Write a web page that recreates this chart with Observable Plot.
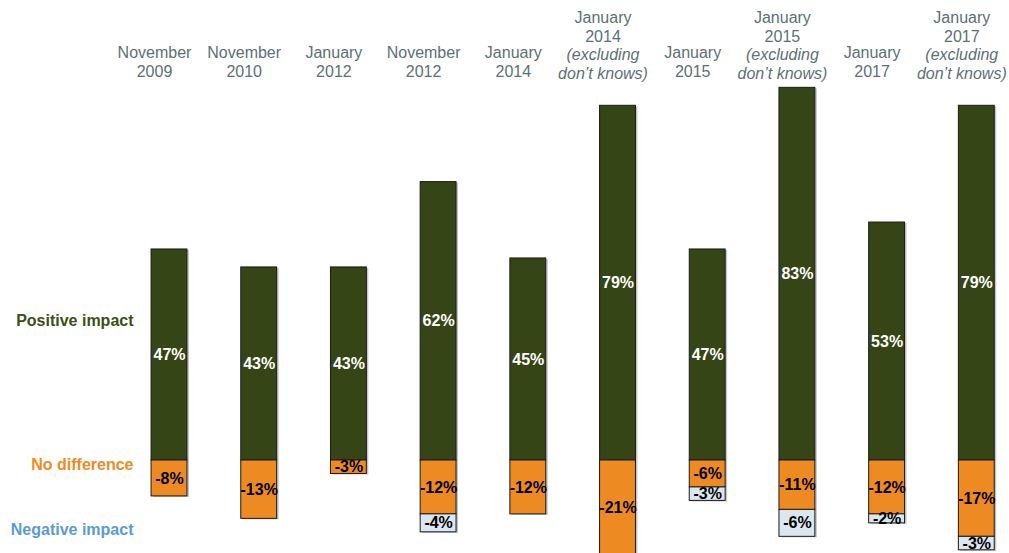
<!DOCTYPE html>
<html>
<head>
<meta charset="utf-8">
<script src="https://cdn.jsdelivr.net/npm/d3@7"></script>
<script src="https://cdn.jsdelivr.net/npm/@observablehq/plot@0.6"></script>
<style>
  html, body { margin: 0; padding: 0; background: #fff; }
  #chart { width: 1009px; height: 553px; overflow: hidden; }
</style>
</head>
<body>
<div id="chart"></div>
<script>
// ---- data ----
const categories = ["Nov 2009", "Nov 2010", "Jan 2012", "Nov 2012", "Jan 2014",
  "Jan 2014 excl", "Jan 2015", "Jan 2015 excl", "Jan 2017", "Jan 2017 excl"];
const headerMain = ["November\n2009", "November\n2010", "January\n2012", "November\n2012", "January\n2014",
  "January\n2014", "January\n2015", "January\n2015", "January\n2017", "January\n2017"];
const headerNote = ["", "", "", "", "", "(excluding\ndon’t knows)", "", "(excluding\ndon’t knows)", "", "(excluding\ndon’t knows)"];
const positive = [47, 43, 43, 62, 45, 79, 47, 83, 53, 79];
const noDifference = [-8, -13, -3, -12, -12, -21, -6, -11, -12, -17];
const negative = [0, 0, 0, -4, 0, 0, -3, -6, -2, -3];
const seriesNames = ["Positive impact", "No difference", "Negative impact"];
const seriesColors = ["#364516", "#EE8A22", "#DCE6F1"];
const labelColors = ["#3B5014", "#EE8A22", "#5B9BD5"];
const rowLabelY = [31, -1, -15.5];

// ---- long table ----
const rows = [];
categories.forEach((c, i) => {
  rows.push({cat: c, series: seriesNames[0], value: positive[i]});
  rows.push({cat: c, series: seriesNames[1], value: noDifference[i]});
  rows.push({cat: c, series: seriesNames[2], value: negative[i]});
});
const bars = rows.filter(d => d.value !== 0);
const headers = categories.map((c, i) => ({cat: c, main: headerMain[i], note: headerNote[i]}));
const rowLabels = seriesNames.map((s, i) => ({label: s, y: rowLabelY[i], color: labelColors[i]}));

const pxPerPct = 4.49, zeroY = 460;
const headerStyle = {x: "cat", frameAnchor: "top", lineAnchor: "top", lineHeight: 1.17,
  fill: "#5b7076", fontSize: 16, dx: -15};
const chart = Plot.plot({
  width: 1009,
  height: 553,
  marginTop: 0, marginBottom: 0, marginLeft: 0, marginRight: 0,
  style: {fontFamily: "'Liberation Sans', Arial, sans-serif", fontSize: "16px", background: "#fff"},
  x: {domain: categories, range: [124.15, 1021.15], paddingInner: 0.6, paddingOuter: 0.3, round: false, axis: null},
  y: {domain: [-21, 83], range: [zeroY + 21 * pxPerPct, zeroY - 83 * pxPerPct], axis: null},
  color: {domain: seriesNames, range: seriesColors},
  marks: [
    Plot.barY(bars, {x: "cat", y: "value", z: "series", order: seriesNames,
      fill: "#c4c4c4", dx: 2, dy: 1}),
    Plot.barY(bars, {x: "cat", y: "value", z: "series", fill: "series", order: seriesNames,
      stroke: "#1b1b1b", strokeWidth: 1}),
    Plot.text(bars, Plot.stackY({x: "cat", y: "value", z: "series", order: seriesNames,
      text: d => d.value + "%",
      fill: d => d.series === seriesNames[0] ? "#ffffff" : "#000000",
      fontWeight: "bold", fontSize: 16})),
    Plot.text(headers, {...headerStyle, text: "main", filter: d => d.note === "", dy: 44}),
    Plot.text(headers, {...headerStyle, text: "main", filter: d => d.note !== "", dy: 9}),
    Plot.text(headers, {...headerStyle, text: "note", fontStyle: "italic", filter: d => d.note !== "", dy: 46.5}),
    Plot.text(rowLabels, {y: "y", frameAnchor: "left", textAnchor: "end", dx: 133,
      text: "label", fill: d => d.color, fontWeight: "bold", fontSize: 16})
  ]
});
document.getElementById("chart").appendChild(chart);
</script>
</body>
</html>
